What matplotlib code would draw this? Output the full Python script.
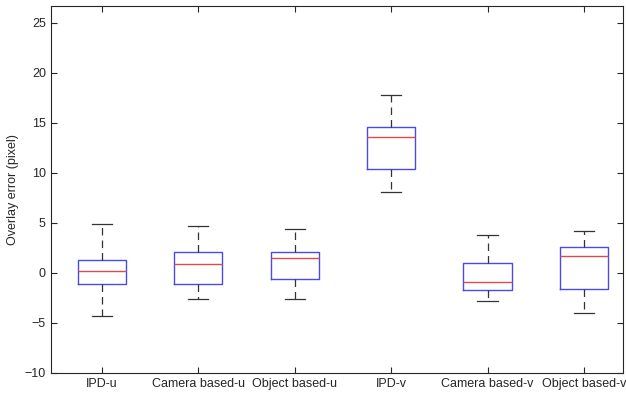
import matplotlib
matplotlib.use("Agg")
import matplotlib.pyplot as plt

plt.rcParams['font.family'] = ['Liberation Sans', 'DejaVu Sans']

labels = ["IPD-u", "Camera based-u", "Object based-u", "IPD-v", "Camera based-v", "Object based-v"]
whislo = [-4.3, -2.63, -2.63, 8.1, -2.87, -4.03]
q1 = [-1.17, -1.17, -0.63, 10.4, -1.77, -1.63]
med = [0.2, 0.87, 1.47, 13.53, -0.93, 1.67]
q3 = [1.27, 2.03, 2.1, 14.6, 1.0, 2.6]
whishi = [4.87, 4.63, 4.37, 17.8, 3.77, 4.2]

stats = []
for i in range(len(labels)):
    stats.append(dict(label=labels[i], whislo=whislo[i], q1=q1[i], med=med[i],
                      q3=q3[i], whishi=whishi[i], fliers=[]))

fig = plt.figure(figsize=(6.26, 3.98), dpi=100)
ax = fig.add_axes([50.7 / 626, 1 - 372.7 / 398, (623 - 50.7) / 626, (372.7 - 6) / 398])

ax.bxp(stats, positions=range(1, 7), widths=0.5, capwidths=0.21, showfliers=False,
       boxprops=dict(color='#4a4ae6', linewidth=1.0),
       medianprops=dict(color='#e04a4a', linewidth=1.0),
       whiskerprops=dict(color='#333333', linewidth=0.9, linestyle=(0, (6, 4))),
       capprops=dict(color='#333333', linewidth=0.9))

ax.set_xlim(0.468, 6.405)
ax.set_ylim(-10, 26.67)
ax.set_yticks([-10, -5, 0, 5, 10, 15, 20, 25])
ax.set_xticks(range(1, 7))
ax.set_xticklabels(labels)
ax.tick_params(direction='in', length=4, width=0.8, colors='#262626', labelsize=9,
               top=True, right=True)
for s in ax.spines.values():
    s.set_color('#262626')
    s.set_linewidth(0.8)
ax.set_ylabel('Overlay error (pixel)', fontsize=9, color='#262626')

fig.savefig("out.png", dpi=100)
